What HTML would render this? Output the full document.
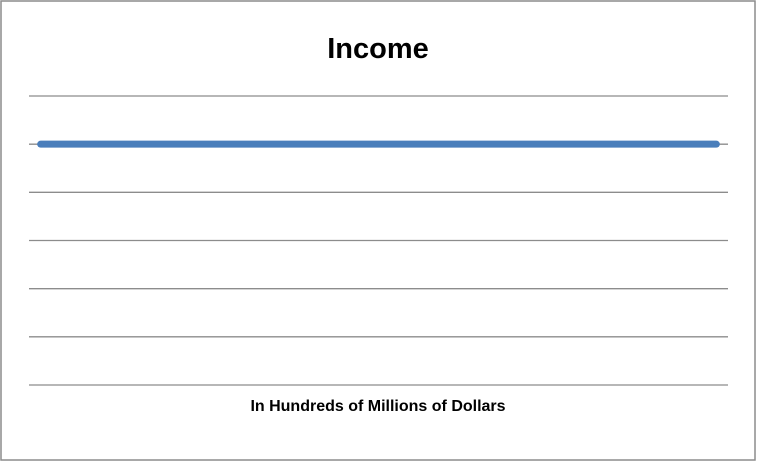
<!DOCTYPE html>
<html><head><meta charset="utf-8"><style>
html,body{margin:0;padding:0;background:#fff;}
svg{display:block;}
text{font-family:"Liberation Sans",Calibri,sans-serif;font-weight:bold;fill:#000;}
</style></head><body>
<svg id="chart" width="757" height="462">
<rect x="1" y="1" width="754" height="459" fill="#fff" stroke="#8c8c8c" stroke-width="1.5"/>
<text x="378" y="58" font-size="29" text-anchor="middle">Income</text>
<g id="grid"></g>
<g id="series"></g>
<text x="378" y="411" font-size="16" text-anchor="middle">In Hundreds of Millions of Dollars</text>
</svg>
<script>
const yTicks = [0, 1, 2, 3, 4, 5, 6];
const categories = Array.from({length: 30}, (_, i) => 'P' + (i + 1));
const incomeValues = [5,5,5,5,5,5,5,5,5,5,5,5,5,5,5,5,5,5,5,5,5,5,5,5,5,5,5,5,5,5];

const NS = 'http://www.w3.org/2000/svg';
const plotL = 29, plotR = 728, plotT = 96, plotB = 385;
const yMin = 0, yMax = 6;
function yScale(v){ return plotB - (v - yMin) / (yMax - yMin) * (plotB - plotT); }
function xScale(i){ const w = (plotR - plotL) / categories.length; return plotL + w * (i + 0.5); }

const grid = document.getElementById('grid');
yTicks.forEach(t => {
  const l = document.createElementNS(NS, 'line');
  l.setAttribute('x1', plotL); l.setAttribute('x2', plotR);
  l.setAttribute('y1', yScale(t)); l.setAttribute('y2', yScale(t));
  l.setAttribute('stroke', '#8c8c8c'); l.setAttribute('stroke-width', '1.3');
  
  
  grid.appendChild(l);
});

const series = document.getElementById('series');
const p = document.createElementNS(NS, 'polyline');
p.setAttribute('points', incomeValues.map((v, i) => xScale(i) + ',' + yScale(v)).join(' '));
p.setAttribute('fill', 'none');
p.setAttribute('stroke', '#4a7ebb');
p.setAttribute('stroke-width', '7');
p.setAttribute('stroke-linecap', 'round');
p.setAttribute('stroke-linejoin', 'round');


series.appendChild(p);
</script>
</body></html>
